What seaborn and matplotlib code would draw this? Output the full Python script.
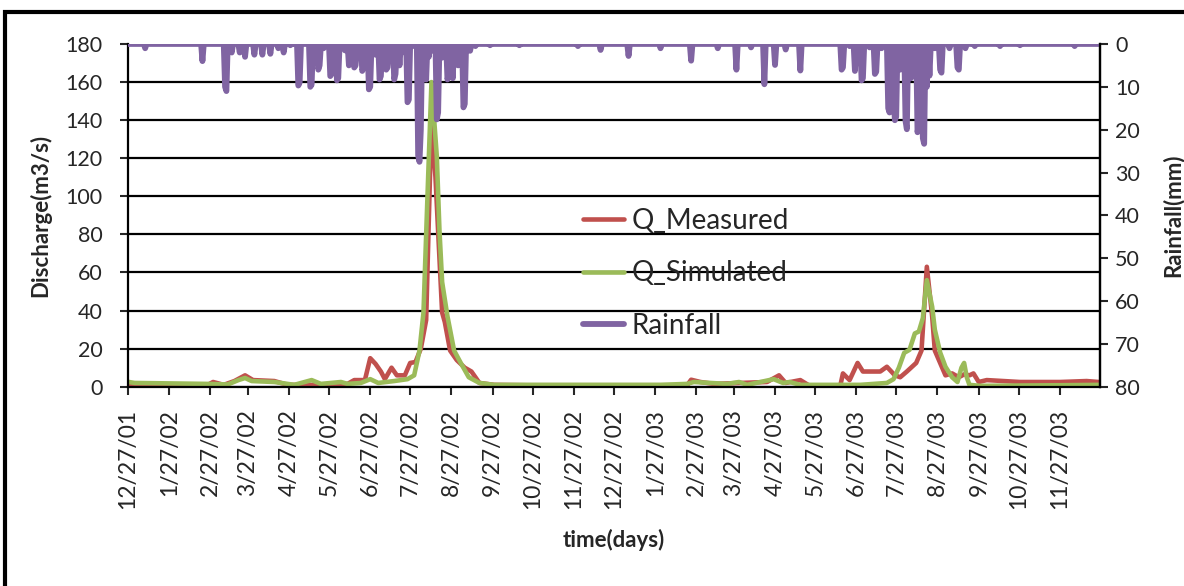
import pandas as pd
import matplotlib
matplotlib.use("Agg")
import matplotlib.pyplot as plt
from matplotlib.patches import Rectangle
import seaborn as sns

# daily record starts 12/27/01; values keyed by day offset
start = pd.Timestamp("2001-12-27")
n_days = 730

meas_days = [0, 7, 60, 64, 72, 80, 88, 94, 110, 120, 135, 150, 165, 170, 178, 182, 186, 190, 193,
             198, 202, 208, 212, 216, 220, 224, 228, 231, 236, 238, 242, 247, 253, 258, 264, 275,
             300, 350, 420, 423, 430, 440, 480, 489, 494, 505, 512, 535, 537, 542, 548, 552, 565,
             570, 576, 580, 585, 592, 596, 600, 604, 606, 610, 614, 619, 624, 628, 632, 635, 639,
             645, 670, 700, 720, 729]
meas_vals = [1.5, 1.5, 1, 2.5, 1, 3, 6, 3.5, 3, 1, 1, 1, 1.5, 3.5, 3.5, 15, 12, 8, 4,
             10, 6, 6, 12.5, 13, 20, 35, 140, 110, 39, 34, 19, 14, 10, 8, 2, 1,
             0.8, 0.8, 0.8, 3.7, 2.5, 1.5, 2.5, 6, 2, 3.5, 0.5, 0.5, 7, 3.5, 12.5, 8, 8,
             10.5, 6, 5, 8, 12.5, 19, 63, 37, 19, 12.5, 6, 7, 5, 6.5, 6, 7, 2.5,
             3.5, 2.5, 2.5, 3, 2.5]

sim_days = [0, 5, 60, 75, 83, 88, 93, 110, 125, 138, 145, 160, 165, 175, 182, 188, 200, 210, 215,
            219, 222, 225, 228, 232, 234, 236, 240, 245, 250, 256, 264, 275, 400, 420, 425, 450,
            459, 465, 485, 492, 497, 505, 550, 570, 575, 579, 583, 587, 591, 594, 597, 600, 604,
            606, 610, 614, 619, 623, 626, 628, 630, 632, 640, 700, 729]
sim_vals = [2.6, 2, 1.5, 1.2, 3.5, 4.6, 3, 2.5, 1, 3.5, 1.5, 2.5, 1.5, 2, 4, 2, 3, 4, 6,
            19, 39, 100, 160, 121, 82, 55, 37, 19, 12.5, 5, 2, 1, 1, 1.5, 2.5, 1.5,
            2.5, 1, 4, 2, 2.5, 1, 1, 2, 4, 10, 17.8, 19.4, 28, 29, 36, 56, 42,
            30, 18, 10.5, 5, 2.5, 10, 12.5, 5, 1, 0.5, 0.8, 1]

rain_days = [13, 56, 73, 74, 78, 84, 88, 95, 101, 107, 113, 117, 122, 128, 129, 137, 138, 143, 144,
             147, 152, 153, 157, 158, 163, 166, 167, 170, 171, 176, 177, 181, 182, 186, 189, 190,
             194, 195, 200, 201, 204, 206, 210, 211, 214, 218, 219, 220, 224, 226, 228, 232, 233,
             236, 240, 241, 244, 246, 248, 252, 253, 257, 261, 272, 294, 338, 355, 376, 400, 423,
             443, 457, 468, 478, 486, 494, 505, 536, 537, 542, 546, 551, 552, 557, 561, 562, 566,
             571, 572, 575, 576, 577, 580, 582, 584, 585, 588, 590, 593, 594, 597, 598, 600, 602,
             606, 610, 611, 617, 623, 624, 629, 636, 655, 670, 711]
rain_mm = [1, 4, 10, 11, 2, 2, 3, 2.5, 2.5, 2.3, 1, 2, 0.3, 9.7, 9, 10, 9.5, 6, 5,
           1, 7.5, 7, 8.5, 8, 1.5, 5, 4.5, 5.5, 5, 6.3, 5.5, 10.6, 10, 2.5, 8.3, 7.5,
           6, 5.5, 8.3, 7, 5, 2, 13.6, 13, 0.5, 26, 27.5, 20, 8.3, 3, 1.6, 17.6, 16,
           3.2, 8.3, 7, 8, 4, 5, 14.8, 14, 1.6, 0.5, 0.3, 0.3, 0.5, 1.4, 2.8, 1, 3.9,
           1, 6, 0.8, 9.4, 4.9, 1.3, 6.2, 6, 5.5, 0.5, 6.3, 8.5, 8, 0.8, 7, 6.5, 1,
           15, 16, 12, 17.8, 17, 6, 5, 18, 19.9, 8, 4, 20.6, 19, 22, 23.3, 10, 7.4,
           1, 6, 6.7, 1, 5.5, 6, 1, 0.5, 0.5, 0.3, 0.5]

tick_labels = ["12/27/01", "1/27/02", "2/27/02", "3/27/02", "4/27/02", "5/27/02", "6/27/02",
               "7/27/02", "8/27/02", "9/27/02", "10/27/02", "11/27/02", "12/27/02", "1/27/03",
               "2/27/03", "3/27/03", "4/27/03", "5/27/03", "6/27/03", "7/27/03", "8/27/03",
               "9/27/03", "10/27/03", "11/27/03"]

df_meas = pd.DataFrame({"date": start + pd.to_timedelta(meas_days, unit="D"), "q": meas_vals})
df_sim = pd.DataFrame({"date": start + pd.to_timedelta(sim_days, unit="D"), "q": sim_vals})
rain = pd.Series(rain_mm, index=start + pd.to_timedelta(rain_days, unit="D"))
rain = rain.reindex(pd.date_range(start, periods=n_days + 1, freq="D"), fill_value=0)
df_rain = pd.DataFrame({"date": rain.index, "mm": rain.values})

sns.set_style("white")
plt.rcParams["font.family"] = ["Lato", "DejaVu Sans"]

fig = plt.figure(figsize=(11.84, 5.86), dpi=100)
ax = fig.add_axes([0.108, 0.340, 0.821, 0.585])

red, green, purple = "#C0504D", "#9BBB59", "#8064A2"
sns.lineplot(data=df_meas, x="date", y="q", ax=ax, color=red, linewidth=3.3, label="Q_Measured", legend=False)
sns.lineplot(data=df_sim, x="date", y="q", ax=ax, color=green, linewidth=3.3, label="Q_Simulated", legend=False)

ax.set_ylim(0, 180)
ax.set_yticks(range(0, 181, 20))
ax.set_xlim(start, start + pd.Timedelta(days=n_days))
ax.set_xticks(pd.to_datetime(tick_labels, format="%m/%d/%y"))
ax.set_xticklabels(tick_labels, rotation=90, fontsize=16.5)
ax.tick_params(axis="y", labelsize=15.5, length=6, width=1.5, direction="out", left=True, pad=12)
ax.tick_params(axis="x", length=6, width=1.5, direction="out", bottom=True, pad=10)
ax.grid(axis="y", color="black", linewidth=1.6)
ax.set_axisbelow(True)
for s in ["left", "bottom", "right"]:
    ax.spines[s].set_color("black")
    ax.spines[s].set_linewidth(1.6)
ax.spines["top"].set_visible(False)
ax.set_ylabel("Discharge(m3/s)", fontsize=16, fontweight="bold", labelpad=10)
ax.set_xlabel("time(days)", fontsize=16, fontweight="bold", labelpad=14)

ax2 = ax.twinx()
sns.lineplot(data=df_rain, x="date", y="mm", ax=ax2, color=purple, linewidth=4.2, label="Rainfall", legend=False)
ax2.set_ylim(80, 0)
ax2.set_yticks(range(0, 81, 10))
ax2.tick_params(axis="y", labelsize=15.5, length=6, width=1.5, direction="out", right=True, pad=5)
ax2.set_ylabel("Rainfall(mm)", fontsize=16, fontweight="bold", labelpad=16)
for s in ["left", "top", "bottom"]:
    ax2.spines[s].set_visible(False)
ax2.spines["right"].set_color("black")
ax2.spines["right"].set_linewidth(1.6)

h1, l1 = ax.get_legend_handles_labels()
h2, l2 = ax2.get_legend_handles_labels()
ax2.legend(h1 + h2, l1 + l2, loc="center left", bbox_to_anchor=(0.468, 0.331), frameon=False,
           fontsize=20, handlelength=1.5, labelspacing=0.95, borderpad=0, borderaxespad=0,
           handletextpad=0.25)

fig.add_artist(Rectangle((0.004, -0.1), 1.2, 1.1 - 12 / 586, transform=fig.transFigure,
                         fill=False, edgecolor="black", linewidth=3))

fig.savefig("out.png", dpi=100)
